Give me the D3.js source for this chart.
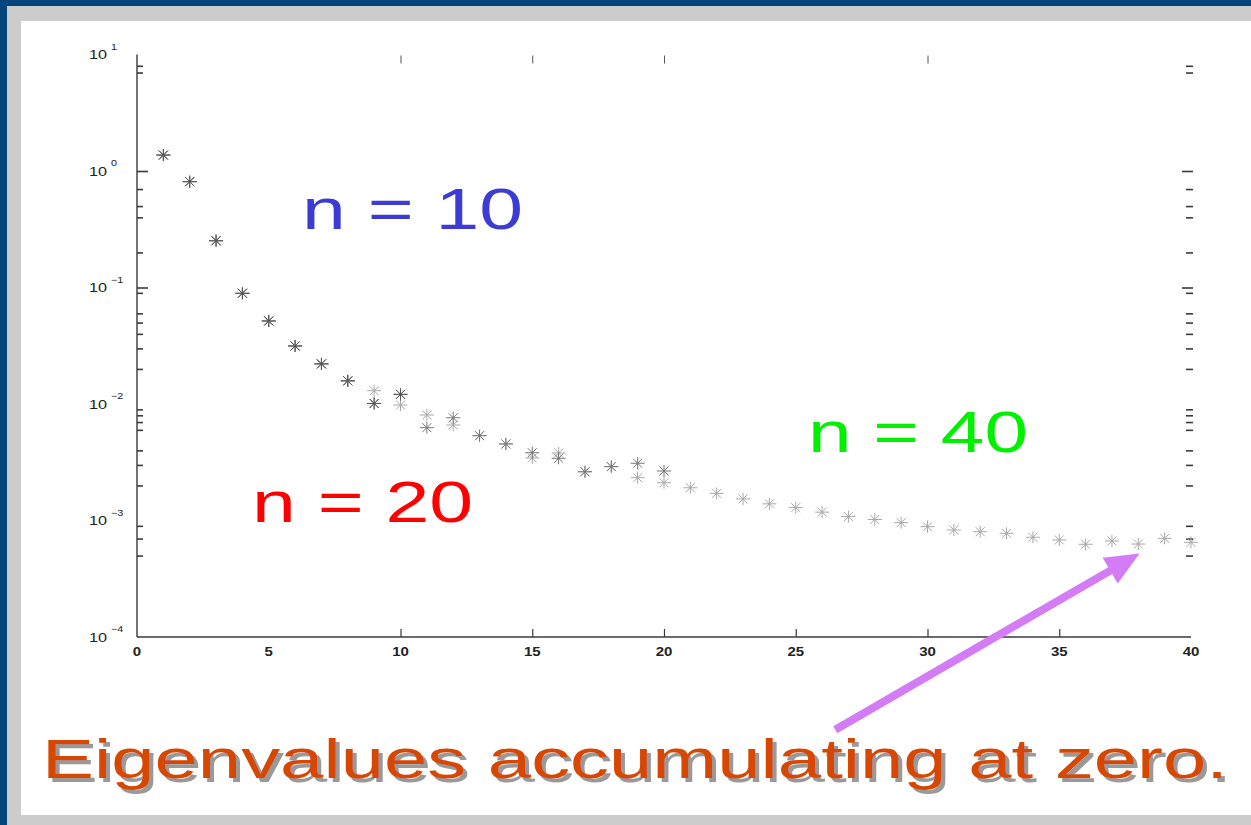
<!DOCTYPE html>
<html>
<head>
<meta charset="utf-8">
<script src="https://cdn.jsdelivr.net/npm/d3@7"></script>
<style>
  html, body { margin: 0; padding: 0; background: #fff; overflow: hidden; }
  svg { display: block; }
  text { font-family: "Liberation Sans", Arial, Helvetica, sans-serif; }
</style>
</head>
<body>
<svg id="chart" width="1251" height="825"></svg>
<script>
// Eigenvalues of the n x n problem, sorted by index (1..n)
const eig10 = [1.37, 0.81, 0.252, 0.0892, 0.0516, 0.0315, 0.0221, 0.0158, 0.0101, 0.0121];
const eig20 = [1.37, 0.81, 0.252, 0.0892, 0.0516, 0.0315, 0.0221, 0.0158, 0.0101, 0.0121,
               0.00626, 0.00762, 0.00535, 0.00454, 0.00382, 0.00342, 0.00262, 0.00290, 0.00310, 0.00266];
const eig40 = [1.37, 0.81, 0.252, 0.0892, 0.0516, 0.0315, 0.0221, 0.0158, 0.0130, 0.0098,
               0.00805, 0.0066, 0.00535, 0.00454, 0.00344, 0.0038, 0.00262, 0.0029, 0.00233, 0.00211,
               0.00191, 0.00171, 0.00153, 0.00139, 0.00129, 0.00118, 0.00108, 0.00102, 0.000958, 0.000885,
               0.000829, 0.000801, 0.000777, 0.000718, 0.000681, 0.000625, 0.000667, 0.000628, 0.000703, 0.00065];

// Axis ticks
const xTickLabels = [0, 5, 10, 15, 20, 25, 30, 35, 40];
const xBottomTicks = [10, 15, 20, 25, 30, 35];
const xTopTicks = [10, 15, 20, 30];
const yExponents = [1, 0, -1, -2, -3, -4];
const yMajorTicks = [1, 0.1];
const yMinorTicks = [8, 7, 0.7, 0.5, 0.4, 0.2, 0.09, 0.06, 0.05, 0.04, 0.03, 0.02,
                     0.009, 0.008, 0.007, 0.006, 0.004, 0.003, 0.002, 0.0009, 0.0007, 0.0005];

// Annotations
const seriesLabels = [
  { text: "n = 10", color: "#3c3cd4", x: 302, y: 229, len: 221 },
  { text: "n = 40", color: "#00f000", x: 808, y: 452, len: 220 },
  { text: "n = 20", color: "#ff0000", x: 252, y: 522, len: 221 }
];
const caption = "Eigenvalues accumulating at zero.";
// arrow in data coordinates: [index, eigenvalue]
const arrowFrom = [26.5, 1.6e-5];
const arrowTo = [38.05, 5.2e-4];

const svg = d3.select("#chart");
const W = 1251, H = 825;

// drop shadow for the caption
const defs = svg.append("defs");
const shadow = defs.append("filter").attr("id", "capShadow")
  .attr("x", "-5%").attr("y", "-20%").attr("width", "110%").attr("height", "150%");
shadow.append("feOffset").attr("in", "SourceAlpha").attr("dx", 4).attr("dy", 4).attr("result", "off");
shadow.append("feFlood").attr("flood-color", "#999999").attr("result", "col");
shadow.append("feComposite").attr("in", "col").attr("in2", "off").attr("operator", "in").attr("result", "sh");
const merge = shadow.append("feMerge");
merge.append("feMergeNode").attr("in", "sh");
merge.append("feMergeNode").attr("in", "SourceGraphic");

// slide frame
svg.append("rect").attr("width", W).attr("height", H).attr("fill", "#04467c");
svg.append("rect").attr("x", 7).attr("y", 6).attr("width", W - 7).attr("height", H - 6).attr("fill", "#cccccc");
svg.append("rect").attr("x", 21).attr("y", 21).attr("width", W - 21).attr("height", 815 - 21).attr("fill", "#ffffff");

const x = d3.scaleLinear().domain([0, 40]).range([137, 1191]);
const y = d3.scaleLog().domain([1e-4, 10]).range([637, 54.5]);

const axisColor = "#3a3a3a";
const g = svg.append("g");

// axis lines
g.append("line").attr("x1", x(0)).attr("x2", x(0)).attr("y1", y(10)).attr("y2", y(1e-4))
  .attr("stroke", axisColor).attr("stroke-width", 1.4);
g.append("line").attr("x1", x(0)).attr("x2", x(40)).attr("y1", y(1e-4)).attr("y2", y(1e-4))
  .attr("stroke", axisColor).attr("stroke-width", 1.4);

// bottom ticks (pointing up) and labels
const xAxis = d3.axisBottom(x).tickValues(xBottomTicks).tickSizeInner(-8).tickSizeOuter(0).tickFormat("");
const gx = g.append("g").attr("transform", `translate(0,${y(1e-4)})`).call(xAxis);
gx.select(".domain").remove();
gx.selectAll(".tick line").attr("stroke", axisColor).attr("stroke-width", 1.2);

g.selectAll(".xlab").data(xTickLabels).join("text")
  .attr("class", "xlab")
  .attr("transform", d => `translate(${x(d)},655.5) scale(1.25,1)`)
  .attr("text-anchor", "middle")
  .attr("font-size", 12).attr("font-weight", "bold").attr("fill", "#222")
  .text(d => d);

// top ticks
const xTop = d3.axisTop(x).tickValues(xTopTicks).tickSizeInner(-8).tickSizeOuter(0).tickFormat("");
const gxt = g.append("g").attr("transform", `translate(0,${y(10) + 1})`).call(xTop);
gxt.select(".domain").remove();
gxt.selectAll(".tick line").attr("stroke", "#555").attr("stroke-width", 1);

// left and right y ticks
function yTicks(values, size, side) {
  const axis = side === "left" ? d3.axisLeft(y) : d3.axisRight(y);
  axis.tickValues(values).tickSizeInner(-size).tickSizeOuter(0).tickFormat("");
  const ga = g.append("g")
    .attr("transform", `translate(${side === "left" ? x(0) : x(40) + 2},0)`)
    .call(axis);
  ga.select(".domain").remove();
  ga.selectAll(".tick line").attr("stroke", axisColor).attr("stroke-width", 1.6);
}
yTicks(yMajorTicks, 11, "left");
yTicks(yMinorTicks, 6, "left");
yTicks(yMajorTicks, 11, "right");
yTicks(yMinorTicks, 7, "right");

// y labels: 10^k
const ylab = g.selectAll(".ylab").data(yExponents).join("g")
  .attr("class", "ylab")
  .attr("transform", d => `translate(89,${y(Math.pow(10, d))})`);
ylab.append("text")
  .attr("transform", "translate(0,4.5) scale(1.3,1)")
  .attr("font-size", 12.5).attr("fill", "#222")
  .text("10");
ylab.append("text")
  .attr("transform", "translate(22,-5) scale(1.2,1)")
  .attr("font-size", 9).attr("fill", "#222")
  .text(d => (d < 0 ? "\u2212" + (-d) : d));

// asterisk markers
const star = "M-7,0H7M0,-6V6M-4.5,-4.5L4.5,4.5M-4.5,4.5L4.5,-4.5";
const series = [
  { values: eig40, color: "#a8a8a8" },
  { values: eig20, color: "#777777" },
  { values: eig10, color: "#555555" }
];
series.forEach(s => {
  g.append("g").selectAll("path").data(s.values).join("path")
    .attr("transform", (d, i) => `translate(${x(i + 1)},${y(d)})`)
    .attr("d", star)
    .attr("fill", "none")
    .attr("stroke", s.color)
    .attr("stroke-width", 1);
});

// series labels
svg.selectAll(".slab").data(seriesLabels).join("text")
  .attr("class", "slab")
  .attr("x", d => d.x).attr("y", d => d.y)
  .attr("textLength", d => d.len).attr("lengthAdjust", "spacingAndGlyphs")
  .attr("font-size", 57).attr("fill", d => d.color)
  .text(d => d.text);

// arrow
const ax0 = x(arrowFrom[0]), ay0 = y(arrowFrom[1]);
const ax1 = x(arrowTo[0]), ay1 = y(arrowTo[1]);
const ang = Math.atan2(ay1 - ay0, ax1 - ax0);
const headLen = 34, headHalf = 15;
const bx = ax1 - headLen * Math.cos(ang), by = ay1 - headLen * Math.sin(ang);
const px = -Math.sin(ang), py = Math.cos(ang);
const arrowColor = "#d47cf6";
svg.append("line")
  .attr("x1", ax0).attr("y1", ay0).attr("x2", bx + 4 * Math.cos(ang)).attr("y2", by + 4 * Math.sin(ang))
  .attr("stroke", arrowColor).attr("stroke-width", 8);
svg.append("path")
  .attr("d", `M${ax1},${ay1}L${bx + headHalf * px},${by + headHalf * py}L${bx - headHalf * px},${by - headHalf * py}Z`)
  .attr("fill", arrowColor);

// caption
svg.append("text")
  .attr("x", 42).attr("y", 778)
  .attr("textLength", 1186).attr("lengthAdjust", "spacingAndGlyphs")
  .attr("font-size", 56).attr("fill", "#d84600")
  .attr("filter", "url(#capShadow)")
  .text(caption);
</script>
</body>
</html>
